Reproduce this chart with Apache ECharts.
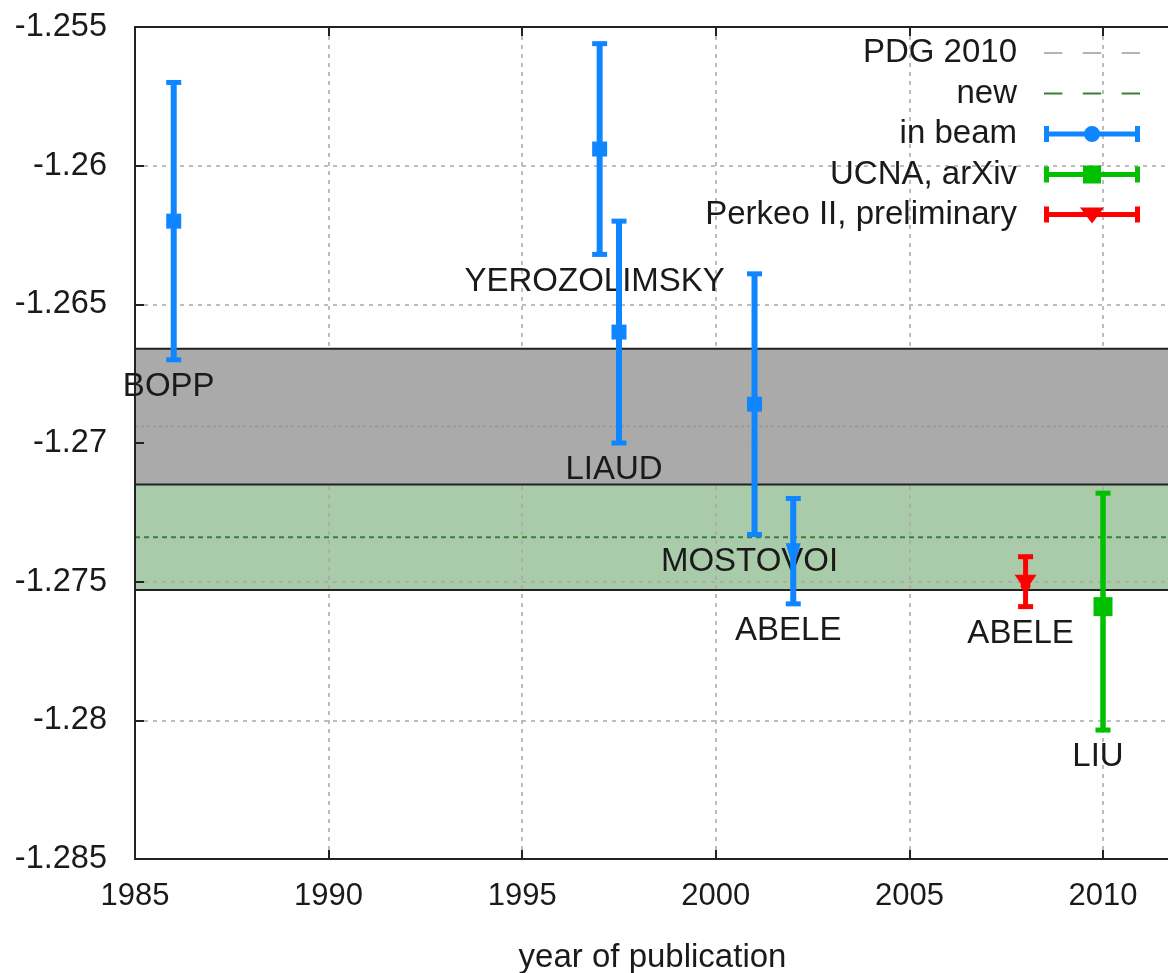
<!DOCTYPE html>
<html>
<head>
<meta charset="utf-8">
<title>lambda vs year of publication</title>
<script src="https://cdn.jsdelivr.net/npm/echarts@6/dist/echarts.min.js"></script>
<style>
html, body { margin: 0; padding: 0; background: #fff; overflow: hidden; }
#chart { width: 1168px; height: 973px; }
</style>
</head>
<body>
<div id="chart"></div>
<script>
// in beam measurements
const beamYears = [1986, 1997, 1997.5, 2001, 2002];
const beamValues = [-1.262, -1.2594, -1.266, -1.2686, -1.2739];
const beamLow = [-1.267, -1.2632, -1.270, -1.2733, -1.2758];
const beamHigh = [-1.257, -1.2556, -1.262, -1.2639, -1.2720];
const beamNames = ["BOPP", "YEROZOLIMSKY", "LIAUD", "MOSTOVOI", "ABELE"];

// UCNA
const ucnaYears = [2010];
const ucnaValues = [-1.2759];
const ucnaLow = [-1.28035];
const ucnaHigh = [-1.27181];
const ucnaNames = ["LIU"];

// Perkeo II preliminary
const perkeoYears = [2008];
const perkeoValues = [-1.275];
const perkeoLow = [-1.2759];
const perkeoHigh = [-1.2741];
const perkeoNames = ["ABELE"];

// averages: value, lower, upper
const pdg2010 = [-1.2694, -1.2722, -1.2666];
const newAvg = [-1.2734, -1.2753, -1.2715];

const xMin = 1985, xMax = 2011.73, xStep = 5;
const yMin = -1.285, yMax = -1.255, yStep = 0.005;

const FONT = '"Liberation Sans", Arial, sans-serif';
const TXT = "#1a1a1a";
const BLUE = "#0f86ff";
const GREEN = "#00c000";
const RED = "#ff0000";

function zip(xs, v, lo, hi, names) {
	return xs.map((x, i) => [x, v[i], lo[i], hi[i], names[i]]);
}

function marker(shape, x, y, s, color) {
	if (shape === "rect") {
		return { type: "rect", shape: { x: x - s / 2, y: y - s / 2, width: s, height: s }, style: { fill: color } };
	}
	if (shape === "tri") {
		return { type: "polygon", shape: { points: [[x - s / 2, y - 8], [x + s / 2, y - 8], [x, y + 18]] }, style: { fill: color } };
	}
	// wide triangle with round tip
	return {
		type: "group",
		children: [
			{ type: "polygon", shape: { points: [[x - s / 2, y - 7], [x + s / 2, y - 7], [x, y + 9]] }, style: { fill: color } },
			{ type: "circle", shape: { cx: x, cy: y + 4, r: 5 }, style: { fill: color } }
		]
	};
}

function errorBar(color, lw, shapes, size) {
	return function (params, api) {
		const x = api.value(0);
		const mid = api.coord([x, api.value(1)]);
		const bot = api.coord([x, api.value(2)]);
		const top = api.coord([x, api.value(3)]);
		const cap = 15;
		const shape = shapes[params.dataIndex] || shapes[0];
		return {
			type: "group",
			children: [
				{ type: "line", shape: { x1: top[0], y1: top[1], x2: bot[0], y2: bot[1] }, style: { stroke: color, lineWidth: lw } },
				{ type: "line", shape: { x1: top[0] - cap / 2, y1: top[1], x2: top[0] + cap / 2, y2: top[1] }, style: { stroke: color, lineWidth: 5 } },
				{ type: "line", shape: { x1: bot[0] - cap / 2, y1: bot[1], x2: bot[0] + cap / 2, y2: bot[1] }, style: { stroke: color, lineWidth: 5 } },
				marker(shape, mid[0], mid[1], size, color),
				{
					type: "text",
					x: bot[0] - 5,
					y: bot[1] + 27,
					style: { text: api.value(4), font: "33px " + FONT, fill: TXT, align: "center", verticalAlign: "middle" }
				}
			]
		};
	};
}

function band(fill, lineColor, dash) {
	return function (params, api) {
		const cs = params.coordSys;
		const yMid = api.coord([xMin, api.value(1)])[1];
		const yLo = api.coord([xMin, api.value(2)])[1];
		const yHi = api.coord([xMin, api.value(3)])[1];
		const x2 = cs.x + cs.width;
		return {
			type: "group",
			children: [
				{ type: "rect", shape: { x: cs.x, y: yHi, width: cs.width, height: yLo - yHi }, style: { fill: fill } },
				{ type: "line", shape: { x1: cs.x, y1: yHi, x2: x2, y2: yHi }, style: { stroke: "#222", lineWidth: 2 } },
				{ type: "line", shape: { x1: cs.x, y1: yLo, x2: x2, y2: yLo }, style: { stroke: "#222", lineWidth: 2 } },
				{ type: "line", shape: { x1: cs.x, y1: yMid, x2: x2, y2: yMid }, style: { stroke: lineColor, lineWidth: 2, lineDash: dash } }
			]
		};
	};
}

const dashIcon = "path://M0 9H18V11H0Z M38 9H56V11H38Z M76 9H94V11H76Z";
const barPath = "M0 2H5V7.5H91V2H96V18H91V12.5H5V18H0Z ";
const circleIcon = "path://" + barPath + "M40 10A8 8 0 1 1 56 10A8 8 0 1 1 40 10Z";
const squareIcon = "path://" + barPath + "M39 1H57V19H39Z";
const triIcon = "path://" + barPath + "M36 3H60L48 19Z";

const chart = echarts.init(document.getElementById("chart"));
chart.setOption({
	animation: false,
	grid: { left: 135, top: 27, right: -2, bottom: 114, outerBoundsMode: "none", containLabel: false },
	legend: {
		orient: "vertical",
		align: "right",
		right: 28,
		top: 35,
		padding: 0,
		itemWidth: 96,
		itemHeight: 20,
		itemGap: 4.5,
		selectedMode: false,
		textStyle: { fontFamily: FONT, fontSize: 33, color: TXT, lineHeight: 36, padding: [0, 22, 0, 0] },
		data: [
			{ name: "PDG 2010", icon: dashIcon, itemStyle: { color: "#b4b4b4" } },
			{ name: "new", icon: dashIcon, itemStyle: { color: "#3c7d3c" } },
			{ name: "in beam", icon: circleIcon, itemStyle: { color: BLUE } },
			{ name: "UCNA, arXiv", icon: squareIcon, itemStyle: { color: GREEN } },
			{ name: "Perkeo II, preliminary", icon: triIcon, itemStyle: { color: RED } }
		]
	},
	xAxis: [
		{
			type: "value",
			min: xMin,
			max: xMax,
			interval: xStep,
			z: 3,
			name: "year of publication",
			nameLocation: "middle",
			nameGap: 82,
			nameTextStyle: { fontFamily: FONT, fontSize: 33, color: TXT },
			axisLine: { lineStyle: { color: "#222", width: 2 } },
			axisTick: { inside: true, length: 9, lineStyle: { color: "#222", width: 2 } },
			axisLabel: {
				margin: 22,
				fontFamily: FONT,
				fontSize: 31,
				color: TXT,
				showMaxLabel: false,
				formatter: v => (Math.abs(v % xStep) < 1e-6 ? String(v) : "")
			},
			splitLine: { show: true, showMaxLine: false, lineStyle: { color: "#a8a8a8", width: 1.5, type: [4, 5] } }
		},
		{
			type: "value",
			position: "top",
			min: xMin,
			max: xMax,
			interval: xStep,
			z: 3,
			axisLine: { lineStyle: { color: "#222", width: 2 } },
			axisTick: { inside: true, length: 9, lineStyle: { color: "#222", width: 2 } },
			axisLabel: { show: false },
			splitLine: { show: false }
		}
	],
	yAxis: {
		type: "value",
		min: yMin,
		max: yMax,
		interval: yStep,
		z: 3,
		axisLine: { show: true, lineStyle: { color: "#222", width: 2 } },
		axisTick: { show: true, inside: true, length: 9, lineStyle: { color: "#222", width: 2 } },
		axisLabel: {
			margin: 28,
			fontFamily: FONT,
			fontSize: 32.5,
			color: TXT,
			formatter: v => String(+v.toFixed(3))
		},
		splitLine: { show: true, lineStyle: { color: "#a8a8a8", width: 1.5, type: [4, 5] } }
	},
	series: [
		{
			name: "PDG 2010",
			type: "custom",
			z: 1,
			silent: true,
			itemStyle: { color: "#b4b4b4" },
			renderItem: band("#aaaaaa", "#9a9a9a", [3, 3]),
			data: [[xMin, ...pdg2010]]
		},
		{
			name: "new",
			type: "custom",
			z: 2,
			silent: true,
			itemStyle: { color: "#3c7d3c" },
			renderItem: band("#aacbaa", "#3c7d3c", [5, 4]),
			data: [[xMin, ...newAvg]]
		},
		{
			name: "in beam",
			type: "custom",
			z: 5,
			silent: true,
			itemStyle: { color: BLUE },
			renderItem: errorBar(BLUE, 6, ["rect", "rect", "rect", "rect", "tri"], 15),
			data: zip(beamYears, beamValues, beamLow, beamHigh, beamNames)
		},
		{
			name: "UCNA, arXiv",
			type: "custom",
			z: 5,
			silent: true,
			itemStyle: { color: GREEN },
			renderItem: errorBar(GREEN, 5.5, ["rect"], 19),
			data: zip(ucnaYears, ucnaValues, ucnaLow, ucnaHigh, ucnaNames)
		},
		{
			name: "Perkeo II, preliminary",
			type: "custom",
			z: 5,
			silent: true,
			itemStyle: { color: RED },
			renderItem: errorBar(RED, 5, ["wtri"], 22),
			data: zip(perkeoYears, perkeoValues, perkeoLow, perkeoHigh, perkeoNames)
		}
	]
});
</script>
</body>
</html>
